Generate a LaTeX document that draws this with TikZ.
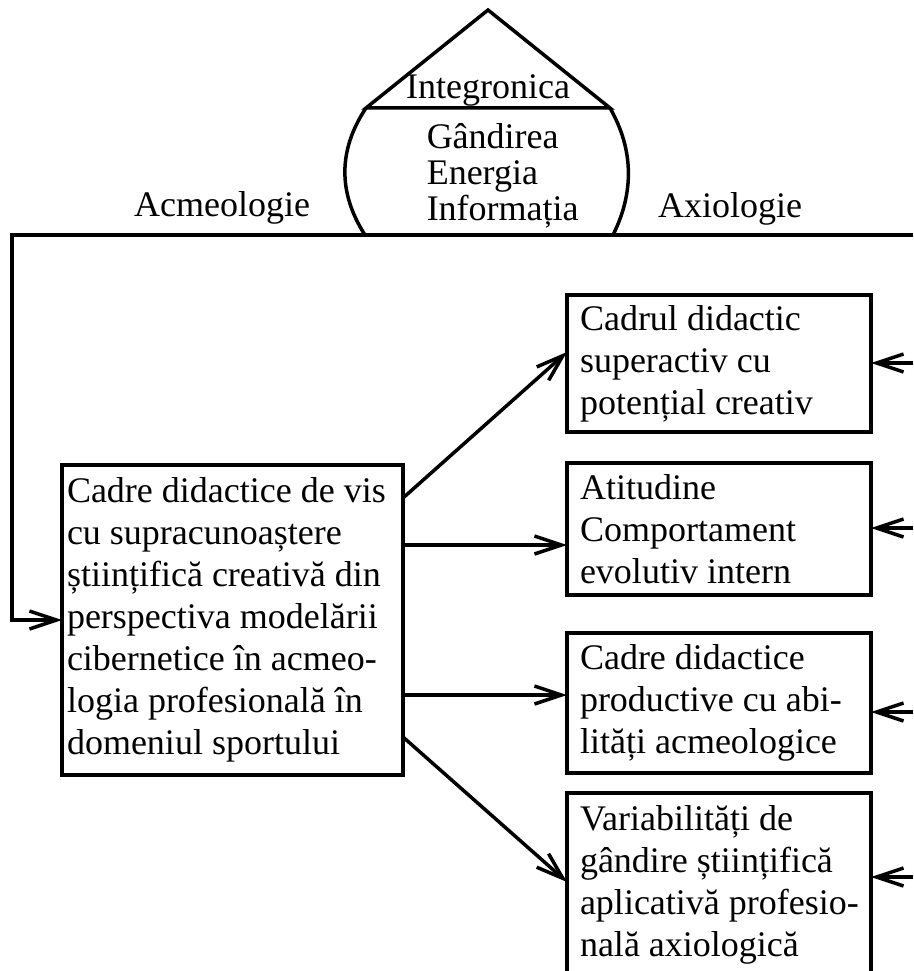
\documentclass[tikz,border=0pt]{standalone}
\usepackage{fontspec}
\setmainfont{Liberation Serif}
\usetikzlibrary{arrows.meta,positioning}

\begin{document}
\begin{tikzpicture}[
    x=1pt,y=-1pt,line width=3.5pt,
    box/.style={draw,line width=3.5pt,align=flush left,inner xsep=13pt,inner ysep=0pt,
      outer sep=0pt,text width=278pt,font=\fontsize{36}{42}\selectfont},
    txt/.style={inner sep=0pt,font=\fontsize{36}{42}\selectfont},
    arrow/.style={-{Straight Barb[length=27pt,width=18pt]},line width=3.5pt}
  ]
    \useasboundingbox (0,0) rectangle (913,971);
    \clip (0,0) rectangle (913,971);
    \draw (366,108) -- (488,10) -- (610,108) -- cycle;
    \draw (366,108) .. controls (338,150) and (338,193) .. (365,235);
    \draw (610,108) .. controls (634,150) and (634,193) .. (613,235);
    \node[txt,anchor=base] (integ) at (488,99) {Integronica};
    \node[txt,anchor=north west,align=left,font=\fontsize{36}{36}\selectfont]
      (triada) at (425,122) {Gândirea\\Energia\\Informația};
    \node[txt,anchor=base] (acmeo) at (222,216) {Acmeologie};
    \node[txt,anchor=base] (axio) at (730,217) {Axiologie};
    \node[box,text width=331pt,inner xsep=5pt,minimum height=310pt] (vis) at (232.5,620)
      {Cadre didactice de vis\\cu supracunoaștere\\științifică creativă din\\perspectiva modelării\\cibernetice în acmeo-\\logia profesională în\\domeniul sportului};
    \node[box,minimum height=137pt] (cadrul) at (719,363.5)
      {Cadrul didactic\\superactiv cu\\potențial creativ};
    \node[box,minimum height=132pt,below=31pt of cadrul] (atit)
      {Atitudine\\Comportament\\evolutiv intern};
    \node[box,minimum height=140pt,below=38pt of atit] (prod)
      {Cadre didactice\\productive cu abi-\\lități acmeologice};
    \node[box,minimum height=183pt,below=20pt of prod] (varia)
      {Variabilități de\\gândire științifică\\\mbox{aplicativă profesio-}\\nală axiologică};
    \coordinate (stanga) at (12,235);
    \coordinate (dreapta) at (913,235);
    \draw[arrow] (dreapta) -- (stanga) |- (vis.west);
    \draw[arrow] ([yshift=-33pt]vis.north east) -- ([yshift=-57pt]cadrul.north west);
    \draw[arrow] ([yshift=-80pt]vis.north east) -- ([yshift=-82pt]atit.north west);
    \draw[arrow] ([yshift=-230pt]vis.north east) -- ([yshift=-62pt]prod.north west);
    \draw[arrow] ([yshift=-272pt]vis.north east) -- ([yshift=-89pt]varia.north west);
    \foreach \b/\y in {cadrul/363,atit/528,prod/712,varia/877}{
      \coordinate (in-\b) at (913,\y);
      \draw[arrow] (in-\b) -- (in-\b -| \b.east);
    }
  \end{tikzpicture}
\end{document}
